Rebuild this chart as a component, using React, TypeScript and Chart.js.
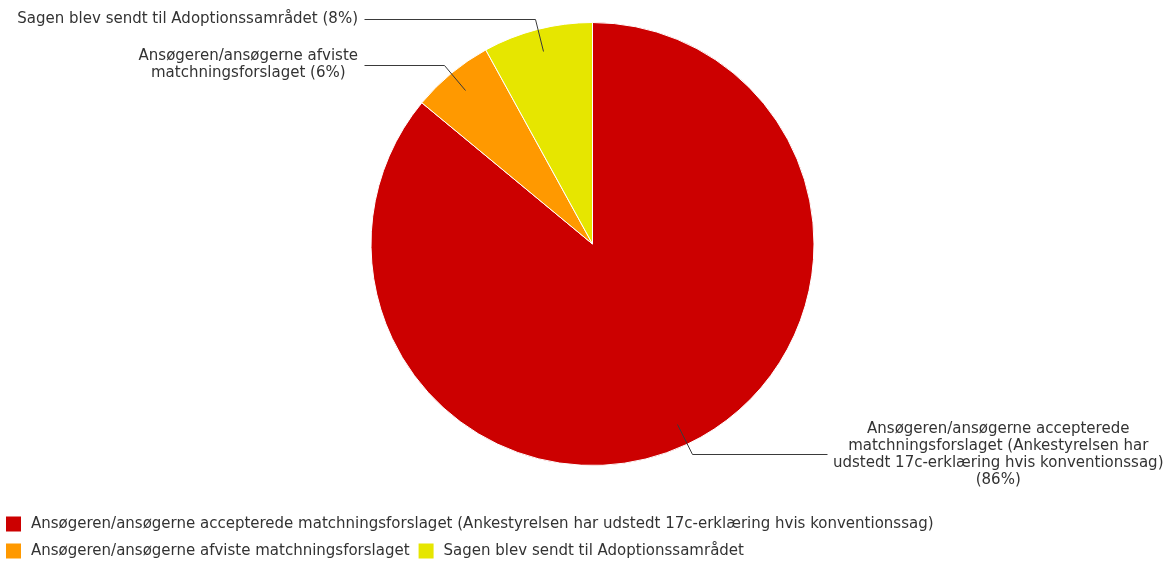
import React, { useEffect, useRef } from "react";
import { Chart, registerables } from "chart.js";

Chart.register(...registerables);

const categories = [
  "Ansøgeren/ansøgerne accepterede matchningsforslaget (Ankestyrelsen har udstedt 17c-erklæring hvis konventionssag)",
  "Ansøgeren/ansøgerne afviste matchningsforslaget",
  "Sagen blev sendt til Adoptionssamrådet",
];
const values = [86, 6, 8];
const colors = ["#CC0000", "#FF9900", "#E6E600"];
// label lines shown next to slices; {p} becomes the percentage
const labelLines = [
  [
    "Ansøgeren/ansøgerne accepterede",
    "matchningsforslaget (Ankestyrelsen har",
    "udstedt 17c-erklæring hvis konventionssag)",
    "({p}%)",
  ],
  ["Ansøgeren/ansøgerne afviste", "matchningsforslaget ({p}%)"],
  ["Sagen blev sendt til Adoptionssamrådet ({p}%)"],
];

const FONT = '15px "DejaVu Sans", Verdana, sans-serif';
const TEXT_COLOR = "#333333";
const LINE_COLOR = "#3a3a3a";

const sliceLabels = {
  id: "sliceLabels",
  afterDatasetsDraw(chart: any) {
    const ctx = chart.ctx;
    const meta = chart.getDatasetMeta(0);
    const data = chart.data.datasets[0].data as number[];
    const total = data.reduce((a, b) => a + b, 0);
    ctx.save();
    ctx.font = FONT;
    ctx.fillStyle = TEXT_COLOR;
    ctx.strokeStyle = LINE_COLOR;
    ctx.lineWidth = 1;
    ctx.textBaseline = "middle";
    ctx.textAlign = "center";
    meta.data.forEach((arc: any, i: number) => {
      const { x, y, startAngle, endAngle, outerRadius } = arc.getProps(
        ["x", "y", "startAngle", "endAngle", "outerRadius"],
        true
      );
      const mid = (startAngle + endAngle) / 2;
      const c = Math.cos(mid);
      const s = Math.sin(mid);
      const p0x = x + c * outerRadius * 0.9;
      const p0y = y + s * outerRadius * 0.9;
      const p1x = x + c * outerRadius * 1.05;
      const p1y = y + s * outerRadius * 1.05;
      const right = c >= 0;
      const endX = right ? x + outerRadius + 13 : x - outerRadius - 7;
      ctx.beginPath();
      ctx.moveTo(Math.round(p0x) + 0.5, Math.round(p0y) + 0.5);
      ctx.lineTo(Math.round(p1x) + 0.5, Math.round(p1y) + 0.5);
      ctx.lineTo(Math.round(endX) + 0.5, Math.round(p1y) + 0.5);
      ctx.stroke();
      const pct = Math.round((data[i] / total) * 100);
      const lines = labelLines[i].map((l) => l.replace("{p}", String(pct)));
      const maxW = Math.max(...lines.map((l) => ctx.measureText(l).width));
      const gap = 6;
      const cx = right ? endX + gap + maxW / 2 : endX - gap - maxW / 2;
      const lh = 17;
      const top = p1y - ((lines.length - 1) * lh) / 2;
      lines.forEach((l, k) => ctx.fillText(l, cx, top + k * lh));
    });
    ctx.restore();
  },
};

const customLegend = {
  id: "customLegend",
  afterDraw(chart: any) {
    const ctx = chart.ctx;
    const labels = chart.data.labels as string[];
    const bg = chart.data.datasets[0].backgroundColor as string[];
    ctx.save();
    ctx.font = FONT;
    ctx.textBaseline = "middle";
    ctx.textAlign = "left";
    const left = 6;
    const maxRight = chart.width - 6;
    const box = 15;
    const boxGap = 10;
    const itemGap = 9;
    let xPos = left;
    let yPos = 524;
    const rowH = 27;
    labels.forEach((lab, i) => {
      const w = box + boxGap + ctx.measureText(lab).width;
      if (xPos > left && xPos + w > maxRight) {
        xPos = left;
        yPos += rowH;
      }
      ctx.fillStyle = bg[i];
      ctx.fillRect(xPos, yPos - box / 2, box, box);
      ctx.fillStyle = TEXT_COLOR;
      ctx.fillText(lab, xPos + box + boxGap, yPos);
      xPos += w + itemGap;
    });
    ctx.restore();
  },
};

export default function App() {
  const ref = useRef<HTMLCanvasElement | null>(null);
  useEffect(() => {
    if (!ref.current) return;
    const chart = new Chart(ref.current, {
      type: "pie",
      data: {
        labels: categories,
        datasets: [
          {
            data: values,
            backgroundColor: colors,
            borderColor: "#ffffff",
            borderWidth: 1,
          },
        ],
      },
      options: {
        responsive: false,
        animation: false,
        layout: { padding: { top: 22, bottom: 95, left: 30, right: 10 } },
        plugins: {
          legend: { display: false },
          tooltip: { enabled: false },
        },
      },
      plugins: [sliceLabels, customLegend],
    });
    return () => chart.destroy();
  }, []);
  return (
    <div style={{ position: "fixed", left: 0, top: 0, width: 1165, height: 561, background: "#fff" }}>
      <canvas ref={ref} width={1165} height={561} style={{ display: "block" }} />
    </div>
  );
}
